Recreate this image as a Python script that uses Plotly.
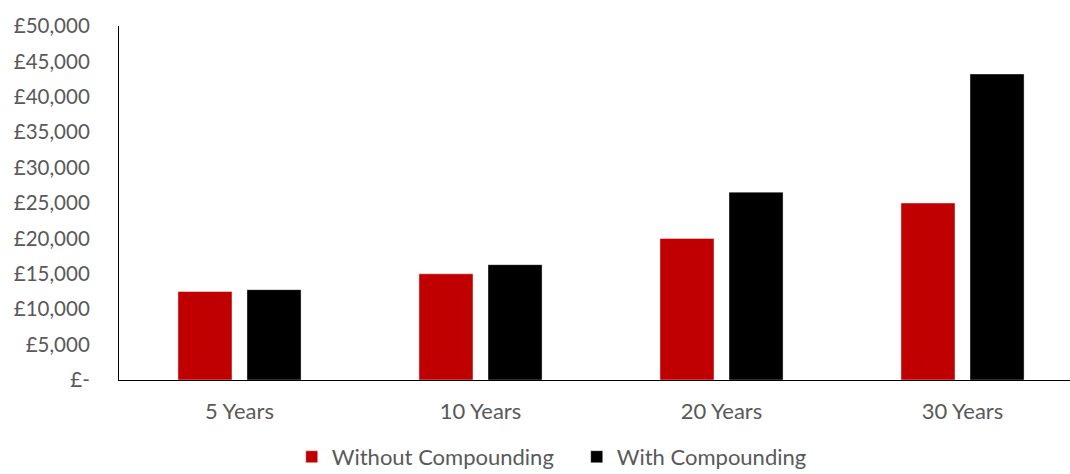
import plotly.graph_objects as go

categories = ["5 Years", "10 Years", "20 Years", "30 Years"]
without_compounding = [12500, 15000, 20000, 25000]
with_compounding = [12763, 16289, 26533, 43219]
tick_values = [0, 5000, 10000, 15000, 20000, 25000, 30000, 35000, 40000, 45000, 50000]
tick_labels = ["£-", "£5,000", "£10,000", "£15,000", "£20,000", "£25,000",
               "£30,000", "£35,000", "£40,000", "£45,000", "£50,000"]

FONT = "Lato"
GREY = "#595959"

fig = go.Figure()
fig.add_trace(go.Bar(
    x=categories, y=without_compounding, name="Without Compounding",
    marker=dict(color="#C00000", line=dict(color="rgba(255,255,255,0.6)", width=0.75)),
))
fig.add_trace(go.Bar(
    x=categories, y=with_compounding, name="With Compounding",
    marker=dict(color="#000000", line=dict(color="rgba(255,255,255,0.5)", width=0.75)),
))

fig.update_layout(
    width=1070, height=474,
    margin=dict(l=119, r=0, t=26, b=94),
    paper_bgcolor="white", plot_bgcolor="white",
    font=dict(family=FONT, size=20, color=GREY),
    barmode="group", bargap=0.427, bargroupgap=0.217,
    showlegend=True,
    legend=dict(
        orientation="h", xref="container", yref="container",
        x=0.539, xanchor="center", y=0.036, yanchor="middle",
        font=dict(family=FONT, size=22, color=GREY),
        itemwidth=30, entrywidth=240, entrywidthmode="pixels",
    ),
    xaxis=dict(
        range=[-0.5, 3.446], showline=True, linecolor="#000000", linewidth=1.2,
        showgrid=False, ticks="", ticklabelstandoff=11,
        tickfont=dict(family=FONT, size=22, color=GREY),
    ),
    yaxis=dict(
        range=[0, 50000], tickvals=tick_values, ticktext=tick_labels,
        showline=True, linecolor="#000000", linewidth=1.2,
        showgrid=False, zeroline=False, ticks="", ticklabelstandoff=24,
        tickfont=dict(family=FONT, size=20.5, color=GREY),
    ),
)

fig.write_html("out.html")
